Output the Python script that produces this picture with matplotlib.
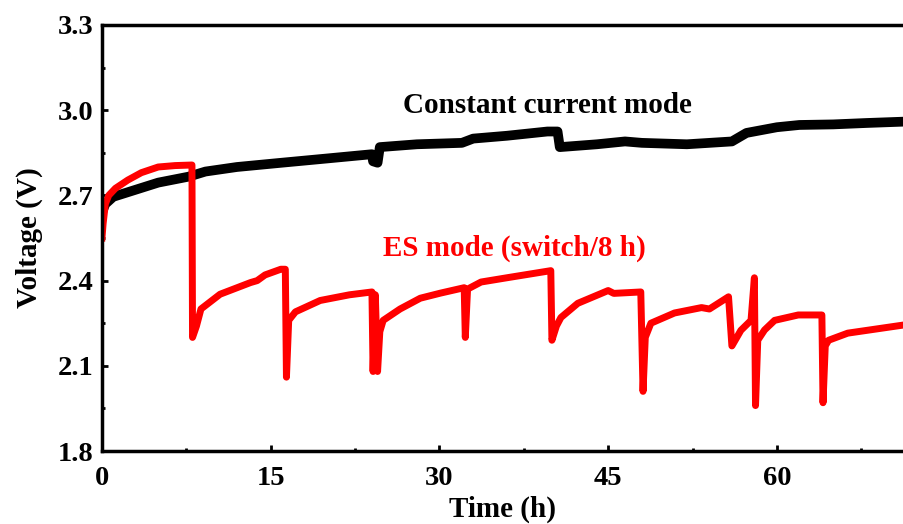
import matplotlib
matplotlib.use('Agg')
import matplotlib.pyplot as plt
from matplotlib.ticker import MultipleLocator

plt.rcParams['font.family'] = ['Liberation Serif', 'DejaVu Serif']
plt.rcParams['font.weight'] = 'bold'

# constant current mode (black)
cc_time = [0.0, 0.3, 1.0, 3.0, 5.0, 7.7, 9.2, 12.0, 15.7, 20.0, 23.2, 24.0,
           24.1, 24.5, 24.7, 28.0, 32.0, 33.0, 36.0, 39.6, 40.5,
           40.7, 44.0, 46.5, 48.0, 52.0, 56.0, 57.3, 60.0, 62.0, 65.0, 68.0, 71.5]
cc_voltage = [2.64, 2.67, 2.695, 2.72, 2.745, 2.766, 2.784, 2.80, 2.814, 2.83, 2.842, 2.845,
              2.82, 2.815, 2.87, 2.88, 2.885, 2.90, 2.91, 2.925, 2.925,
              2.87, 2.88, 2.89, 2.885, 2.88, 2.89, 2.92, 2.94, 2.948, 2.95, 2.955, 2.96]

# ES mode, switch every 8 h (red)
es_time = [0.0, 0.1, 0.3, 0.6, 1.2, 2.3, 3.5, 5.0, 6.5, 8.0,
           8.05, 8.4, 8.8, 10.5, 13.2, 13.8, 14.5, 15.9, 16.3,
           16.4, 16.6, 17.2, 19.4, 22.0, 24.0, 24.1, 24.3, 24.5, 24.7, 25.0, 26.5, 28.3, 30.1, 32.2,
           32.3, 32.5, 33.7, 36.0, 39.9,
           40.0, 40.4, 40.8, 42.3, 45.0, 45.5, 47.9,
           48.1, 48.3, 48.8, 50.9, 53.3, 54.0, 55.7,
           56.0, 56.8, 57.7, 58.0, 58.1, 58.3, 58.9, 59.8, 61.9, 64.0,
           64.1, 64.3, 64.6, 66.3, 71.5]
es_voltage = [2.55, 2.60, 2.67, 2.70, 2.725, 2.754, 2.78, 2.80, 2.805, 2.807,
              2.20, 2.24, 2.30, 2.352, 2.393, 2.40, 2.42, 2.44, 2.44,
              2.06, 2.26, 2.29, 2.33, 2.35, 2.36, 2.08, 2.35, 2.08, 2.22, 2.26, 2.30, 2.338, 2.356, 2.375,
              2.20, 2.37, 2.395, 2.41, 2.435,
              2.19, 2.24, 2.27, 2.32, 2.365, 2.355, 2.36,
              2.01, 2.20, 2.25, 2.286, 2.305, 2.30, 2.343,
              2.17, 2.225, 2.26, 2.41, 1.96, 2.19, 2.226, 2.26, 2.279, 2.279,
              1.97, 2.17, 2.19, 2.215, 2.245]

fig = plt.figure(figsize=(9.04, 5.24), dpi=100)
ax = fig.add_axes([0.1128, 0.1393, 0.8872, 0.813])

ax.plot(cc_time, cc_voltage, color='black', lw=7, solid_joinstyle='round')
ax.plot(es_time, es_voltage, color='#ff0000', lw=5, solid_joinstyle='round')

ax.set_xlim(0, 71.3)
ax.set_ylim(1.8, 3.3)
ax.xaxis.set_major_locator(MultipleLocator(15))
ax.xaxis.set_minor_locator(MultipleLocator(7.5))
ax.yaxis.set_major_locator(MultipleLocator(0.3))
ax.yaxis.set_minor_locator(MultipleLocator(0.15))
ax.yaxis.set_major_formatter(matplotlib.ticker.FormatStrFormatter('%.1f'))

for s in ['left', 'bottom', 'top']:
    ax.spines[s].set_linewidth(2.5)
ax.spines['right'].set_visible(False)
ax.tick_params(which='both', direction='in', width=2, labelsize=20.5,
               top=False, right=False)
ax.tick_params(which='major', length=4.5, pad=6)
ax.tick_params(axis='x', which='major', pad=11)
ax.tick_params(which='minor', length=2.5)

ax.set_xlabel('Time (h)', fontsize=21, fontweight='bold', labelpad=3)
ax.set_ylabel('Voltage (V)', fontsize=21, fontweight='bold', labelpad=11)

ax.text(26.8, 3.015, 'Constant current mode', fontsize=21, fontweight='bold',
        color='black', va='center')
ax.text(25.0, 2.515, 'ES mode (switch/8 h)', fontsize=21, fontweight='bold',
        color='#ff0000', va='center')

fig.savefig('out.png', dpi=100)
